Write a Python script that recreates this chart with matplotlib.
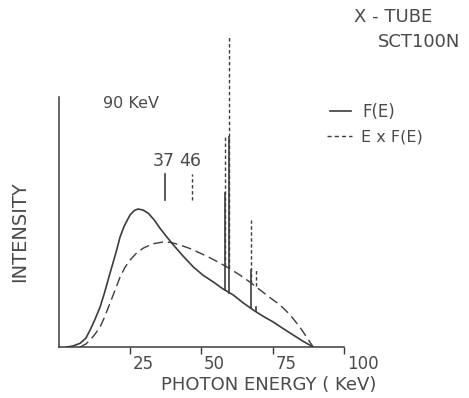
import numpy as np
import matplotlib
matplotlib.use('Agg')
import matplotlib.pyplot as plt
from matplotlib.lines import Line2D

plt.rcParams['font.family'] = ['DejaVu Sans']

ink = '#3c3c3c'
txt = '#4a4a4a'

# F(E) spectrum (solid)
e_f = [2.8, 5, 7.5, 9.5, 11, 12.5, 14.5, 16, 18, 20, 21.5, 23, 25, 26.5, 27.8, 29.5,
       31.4, 33.5, 35.5, 37.9, 40.2, 43.5, 47.2, 50.5, 54.2, 57.5, 61.2, 64.5, 68.2,
       71.5, 75.2, 78.5, 82.2, 85.5, 89.2]
f_e = [0, 0.4, 1.5, 3.5, 6.8, 10.5, 16, 21.5, 29.6, 37.5, 44, 48.5, 52.8, 54.6, 55.2, 54.8,
       53.5, 50.8, 47.5, 44, 40.8, 36.5, 32, 28.8, 26, 23.3, 20.8, 17.8, 14.8,
       12.4, 10, 7.5, 4.8, 2.4, 0]

# E x F(E) spectrum (dashed)
e_ef = [7.5, 9.5, 11, 12.5, 14.5, 16, 18, 20, 21.5, 23.2, 25, 27.3, 29.7, 33, 36.6, 39.5,
        42.5, 46, 49.5, 53, 56.5, 60, 63.5, 67, 70.6, 74, 77.6, 81, 84.5, 87, 89.2]
ef_e = [0, 1.2, 2.8, 4.8, 8, 11.8, 17.6, 23.5, 28, 31.8, 34.8, 37.6, 39.6, 41.3, 42, 41.8,
        40.8, 39.4, 37.6, 35.7, 33.6, 31.3, 28.8, 26, 22.8, 19.8, 16.8, 13, 8, 3.8, 0]

# characteristic lines
line_e = [58.3, 59.8, 67.3, 69.0]
line_top_f = [61.6, 84, 30.8, 16]
line_top_ef = [84, 124.8, 50.8, 30.8]

# mean energies
mean_pos = [37.3, 46.7]
mean_lbl = ['37', '46']

xticks = [25, 50, 75, 100]

fig = plt.figure(figsize=(4.69, 3.98), dpi=100)
ax = fig.add_axes([0.1252, 0.1281, 0.6083, 0.8166])
ax.set_xlim(0, 100)
ax.set_ylim(0, 130)

ax.plot(e_f, f_e, color=ink, lw=1.2)
ax.plot(e_ef, ef_e, color=ink, lw=1.0, dashes=(7, 3.5))

for e, t1, t2 in zip(line_e, line_top_f, line_top_ef):
    b1 = np.interp(e, e_f, f_e)
    b2 = np.interp(e, e_ef, ef_e)
    ax.plot([e, e], [b2, t2], color=ink, lw=1.0, dashes=(2.5, 1.8))
    ax.plot([e, e], [b1, t1], color=ink, lw=1.2)

# mean energy markers
ax.plot([mean_pos[0]] * 2, [58.8, 69.2], color=ink, lw=1.2)
ax.plot([mean_pos[1]] * 2, [58.8, 69.2], color=ink, lw=1.0, dashes=(2.5, 1.8))
for p, s in zip(mean_pos, mean_lbl):
    ax.text(p - 0.6, 71, s, ha='center', va='bottom', fontsize=12.5, color=txt)

for s in ['top', 'right']:
    ax.spines[s].set_visible(False)
ax.spines['left'].set_bounds(0, 100)
ax.spines['bottom'].set_bounds(0, 100)
for s in ['left', 'bottom']:
    ax.spines[s].set_color(ink)
    ax.spines[s].set_linewidth(1.1)

ax.set_yticks([])
ax.set_xticks(xticks)
ax.set_xticklabels([])
ax.tick_params(axis='x', direction='out', length=5, width=1.0, color=ink)
for t in xticks:
    ax.annotate(str(t), (t, 0), xycoords='data', xytext=(2.0, -6),
                textcoords='offset points', ha='left', va='top',
                fontsize=12, color=txt)

# labels
fig.text(269 / 469, 1 - 385 / 398, 'PHOTON ENERGY ( KeV)', ha='center', va='center',
         fontsize=13, color=txt)
fig.text(20 / 469, 1 - 232 / 398, 'INTENSITY', ha='center', va='center',
         rotation=90, fontsize=14, color=txt)
fig.text(103 / 469, 1 - 103 / 398, '90 KeV', ha='left', va='center',
         fontsize=11.5, color=txt)
fig.text(354 / 469, 1 - 17 / 398, 'X - TUBE', ha='left', va='center',
         fontsize=13, color=txt)
fig.text(378 / 469, 1 - 42 / 398, 'SCT100N', ha='left', va='center',
         fontsize=13, color=txt)

# legend drawn by hand
fig.add_artist(Line2D([330 / 469, 351 / 469], [1 - 111 / 398] * 2, color=ink, lw=1.2))
fig.add_artist(Line2D([327 / 469, 352 / 469], [1 - 136 / 398] * 2, color=ink, lw=1.0,
                      dashes=(3, 2.2)))
fig.text(362 / 469, 1 - 112 / 398, 'F(E)', ha='left', va='center', fontsize=12, color=txt)
fig.text(361 / 469, 1 - 137 / 398, 'E x F(E)', ha='left', va='center', fontsize=11.5, color=txt)

fig.savefig('out.png', dpi=100)
